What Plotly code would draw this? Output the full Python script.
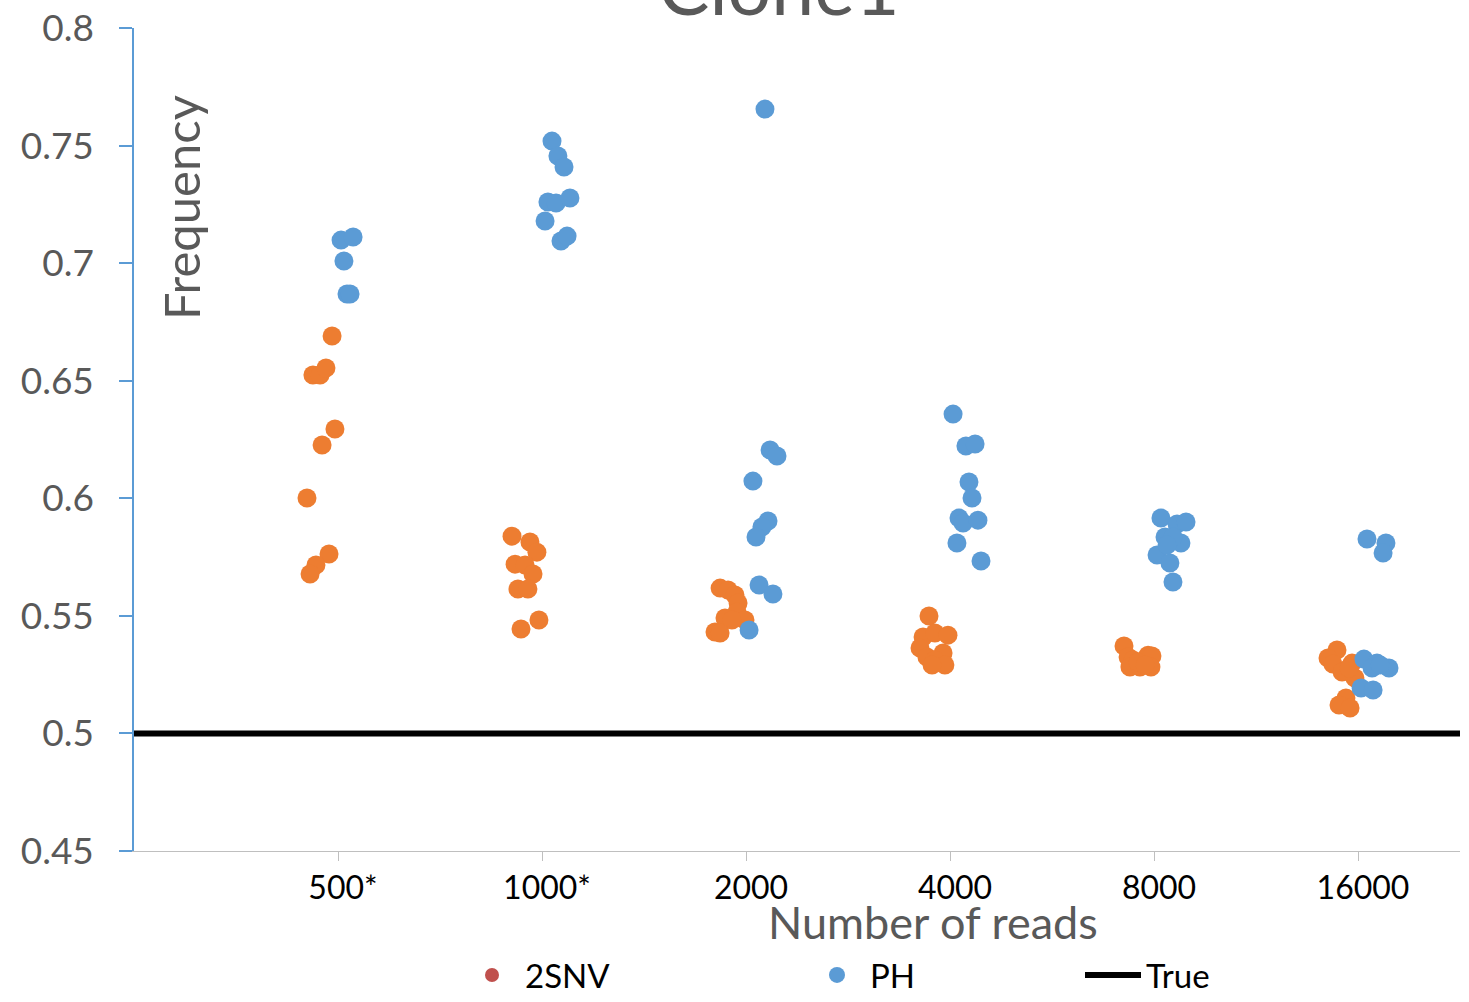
import plotly.graph_objects as go

# Read-count groups (x positions 1..6 on a continuous axis, points jittered around them)
categories = ["500*", "1000*", "2000", "4000", "8000", "16000"]
category_pos = [1, 2, 3, 4, 5, 6]

# 2SNV estimates: jittered x position and frequency
snv_x = [
    0.971, 0.877, 0.912, 0.941, 0.985, 0.922, 0.848, 0.956, 0.892, 0.863,
    1.853, 1.941, 1.975, 1.868, 1.917, 1.956, 1.882, 1.931, 1.985, 1.897,
    2.873, 2.912, 2.946, 2.961, 2.956, 2.897, 2.995, 2.931, 2.848, 2.873,
    3.897, 3.868, 3.926, 3.990, 3.853, 3.966, 3.887, 3.926, 3.975, 3.912,
    4.853, 4.873, 4.897, 4.882, 4.931, 4.971, 4.990, 4.985, 4.922, 4.956,
    5.897, 5.853, 5.877, 5.922, 5.971, 5.985, 5.941, 5.907, 5.961, 5.956,
]
snv_y = [
    0.669, 0.6524, 0.6524, 0.6554, 0.6295, 0.6227, 0.6001, 0.5763, 0.5716, 0.5678,
    0.5839, 0.5814, 0.5771, 0.5720, 0.5716, 0.5678, 0.5614, 0.5614, 0.5482, 0.5444,
    0.5618, 0.5610, 0.5589, 0.5555, 0.5516, 0.5491, 0.5482, 0.5482, 0.5431, 0.5427,
    0.5499, 0.5410, 0.5427, 0.5418, 0.5363, 0.5342, 0.5325, 0.5312, 0.5291, 0.5291,
    0.5372, 0.5325, 0.5312, 0.5282, 0.5282, 0.5333, 0.5329, 0.5282, 0.5304, 0.5291,
    0.5355, 0.5321, 0.5295, 0.5261, 0.5299, 0.5236, 0.5151, 0.5121, 0.5108, 0.5278,
]

# PH estimates: jittered x position and frequency
ph_x = [
    1.015, 1.074, 1.029, 1.044, 1.059,
    2.049, 2.078, 2.108, 2.029, 2.069, 2.137, 2.015, 2.093, 2.123,
    3.093, 3.118, 3.152, 3.034, 3.108, 3.078, 3.049, 3.064, 3.132, 3.015,
    4.015, 4.078, 4.123, 4.093, 4.108, 4.044, 4.064, 4.137, 4.034, 4.152,
    5.034, 5.113, 5.157, 5.054, 5.132, 5.093, 5.015, 5.078, 5.093, 5.064,
    6.044, 6.137, 6.123, 6.029, 6.093, 6.152, 6.015, 6.074, 6.069, 6.108,
]
ph_y = [
    0.7098, 0.7111, 0.7009, 0.6869, 0.6869,
    0.7519, 0.7456, 0.7409, 0.7260, 0.7256, 0.7277, 0.7179, 0.7094, 0.7115,
    0.7655, 0.6205, 0.6180, 0.6073, 0.5903, 0.5878, 0.5835, 0.5631, 0.5593, 0.5440,
    0.6358, 0.6222, 0.6231, 0.6069, 0.6001, 0.5916, 0.5895, 0.5907, 0.5810, 0.5733,
    0.5916, 0.5891, 0.5899, 0.5835, 0.5810, 0.5835, 0.5759, 0.5725, 0.5644, 0.5801,
    0.5827, 0.5810, 0.5767, 0.5316, 0.5299, 0.5278, 0.5193, 0.5185, 0.5278, 0.5291,
]

true_freq = 0.5
x_range = [0, 6.5]
y_ticks = [0.45, 0.5, 0.55, 0.6, 0.65, 0.7, 0.75, 0.8]
y_tick_text = ["0.45", "0.5", "0.55", "0.6", "0.65", "0.7", "0.75", "0.8"]

ORANGE = "#ED7D31"
BLUE = "#5B9BD5"
RED = "#C0504D"
GREY_TEXT = "#595959"
FONT = "Lato, sans-serif"

fig = go.Figure()

fig.add_trace(go.Scatter(
    x=snv_x, y=snv_y, mode="markers", name="2SNV", showlegend=False,
    marker=dict(color=ORANGE, size=19, line=dict(width=0)),
))
fig.add_trace(go.Scatter(
    x=ph_x, y=ph_y, mode="markers", name="PH", showlegend=False,
    marker=dict(color=BLUE, size=19, line=dict(width=0)),
))
fig.add_trace(go.Scatter(
    x=x_range, y=[true_freq, true_freq], mode="lines", name="True",
    showlegend=False, line=dict(color="black", width=6),
))

# Legend entries (one legend per entry so each can be placed freely)
fig.add_trace(go.Scatter(
    x=[None], y=[None], mode="markers", name="2SNV", legend="legend",
    marker=dict(color=RED, size=14),
))
fig.add_trace(go.Scatter(
    x=[None], y=[None], mode="markers", name="PH", legend="legend2",
    marker=dict(color=BLUE, size=17),
))
fig.add_trace(go.Scatter(
    x=[None], y=[None], mode="lines", name="True", legend="legend3",
    line=dict(color="black", width=6),
))

L, R, T, B = 134, 9, 28, 151
W, H = 1469, 1002
pw, ph_ = W - L - R, H - T - B


def px_x(px):
    return (px - L) / pw


def px_y(py):
    return (H - B - py) / ph_


legend_font = dict(family=FONT, size=33, color="black")
legend_common = dict(
    orientation="h", yanchor="middle", xanchor="left", itemwidth=56,
    bgcolor="rgba(0,0,0,0)", font=legend_font, tracegroupgap=0,
)

fig.update_layout(
    width=W, height=H,
    margin=dict(l=L, r=R, t=T, b=B, pad=0, autoexpand=False),
    paper_bgcolor="white", plot_bgcolor="white",
    font=dict(family=FONT, color=GREY_TEXT),
    legend=dict(x=px_x(459), y=px_y(975), **legend_common),
    legend2=dict(x=px_x(804), y=px_y(975), **legend_common),
    legend3=dict(x=px_x(1080), y=px_y(975), **legend_common),
    xaxis=dict(
        range=x_range, tickmode="array", tickvals=category_pos, ticktext=categories,
        showgrid=False, zeroline=False, showline=True, linecolor="#BFBFBF", linewidth=1,
        ticks="outside", ticklen=9, tickcolor="#BFBFBF", tickwidth=1,
        tickfont=dict(family=FONT, size=32, color="black"),
        ticklabelstandoff=0, ticklabelshift=5,
    ),
    yaxis=dict(
        range=[0.45, 0.8], tickmode="array", tickvals=y_ticks, ticktext=y_tick_text,
        showgrid=False, zeroline=False, showline=True, linecolor=BLUE, linewidth=1.5,
        ticks="outside", ticklen=13, tickcolor=BLUE, tickwidth=1.5,
        tickfont=dict(family=FONT, size=37, color=GREY_TEXT),
        ticklabelstandoff=18,
    ),
)

# Chart title, axis titles
fig.add_annotation(
    text="Clone1", xref="paper", yref="paper", x=px_x(779), y=px_y(33),
    xanchor="center", yanchor="bottom", showarrow=False,
    font=dict(family=FONT, size=77, color=GREY_TEXT),
)
fig.add_annotation(
    text="Frequency", xref="paper", yref="paper", x=px_x(181), y=px_y(208),
    xanchor="center", yanchor="middle", textangle=-90, showarrow=False,
    font=dict(family=FONT, size=49, color=GREY_TEXT),
)
fig.add_annotation(
    text="Number of reads", xref="paper", yref="paper", x=px_x(933), y=px_y(922),
    xanchor="center", yanchor="middle", showarrow=False,
    font=dict(family=FONT, size=45, color=GREY_TEXT),
)

fig.write_html("out.html")
